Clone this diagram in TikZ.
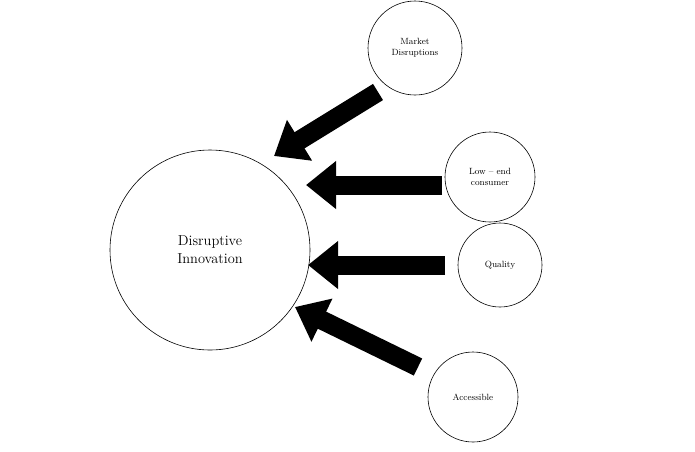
\documentclass[tikz,border=0pt]{standalone}
\usetikzlibrary{arrows.meta}
\begin{document}
\begin{tikzpicture}[x=1pt,y=-1pt,
  circ/.style={draw,circle,line width=0.6pt,align=center,inner sep=0pt,font=\small},
  bigarrow/.style={line width=19pt,-{Triangle[width=46pt,length=30pt]}}]
\useasboundingbox (0,0) rectangle (695,451);
\node[circ,minimum size=200pt,font=\Large] (di) at (210,250) {Disruptive\\Innovation};
\node[circ,minimum size=94pt] (md) at (415,48) {Market\\Disruptions};
\node[circ,minimum size=90pt] (lc) at (490,177) {Low -- end\\consumer};
\node[circ,minimum size=84pt] (q) at (500,265) {Quality};
\node[circ,minimum size=90pt] (a) at (473,397) {Accessible};
\coordinate (s1) at (378,92); \coordinate (e1) at (274,156);
\coordinate (s2) at (442,185); \coordinate (e2) at (306,185);
\coordinate (s3) at (445,265); \coordinate (e3) at (308,265);
\coordinate (s4) at (418,367); \coordinate (e4) at (295,307);
\draw[bigarrow] (s1) -- (e1);
\draw[bigarrow] (s2) -- (e2);
\draw[bigarrow] (s3) -- (e3);
\draw[bigarrow] (s4) -- (e4);
\end{tikzpicture}
\end{document}
